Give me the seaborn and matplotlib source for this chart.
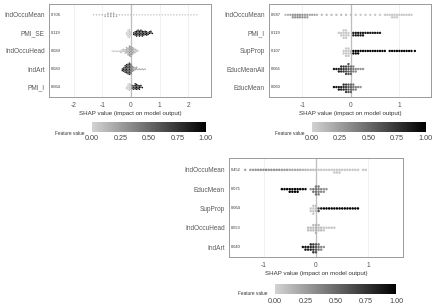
import numpy as np
import pandas as pd
import seaborn as sns
import matplotlib.pyplot as plt
from matplotlib.colors import LinearSegmentedColormap, Normalize
from matplotlib.cm import ScalarMappable
from matplotlib.transforms import blended_transform_factory
import warnings

warnings.filterwarnings('ignore')

# ---- chart 1 (top left) ----
c1_features = ['IndOccuMean', 'PMI_SE', 'IndOccuHead', 'IndArt', 'PMI_I']
c1_importance = ['0.706', '0.119', '0.089', '0.080', '0.064']
c1_shap = [
    [-1.3, -1.2, -1.1, -1.0, -0.9, -0.8, -0.7, -0.6, -0.5, -0.4, -0.3, -0.2, -0.1, 0.0, 0.1, 0.2, 0.3, 0.4,
     0.5, 0.6, 0.7, 0.8, 0.9, 1.0, 1.1, 1.2, 1.3, 1.4, 1.5, 1.6, 1.7, 1.8, 1.9, 2.0, 2.1, 2.2, 2.3],
    [-0.15, -0.1, -0.05, 0.0, 0.1, 0.15, 0.2, 0.25, 0.3, 0.35, 0.4, 0.45, 0.5, 0.55, 0.6, 0.65, 0.7, 0.75],
    [-0.65, -0.6, -0.55, -0.5, -0.45, -0.4, -0.35, -0.3, -0.25, -0.2, -0.15, -0.1, -0.05, 0.0, 0.05, 0.1, 0.15, 0.2, 0.25],
    [-0.3, -0.25, -0.2, -0.15, -0.1, -0.05, 0.0, 0.05, 0.1, 0.15, 0.2, 0.25, 0.3, 0.35, 0.4, 0.45, 0.5],
    [-0.15, -0.1, -0.05, 0.0, 0.05, 0.1, 0.15, 0.2, 0.25, 0.3, 0.35, 0.4],
]
c1_count = [
    [1, 1, 1, 1, 2, 3, 3, 3, 2, 1, 1, 1, 1, 1, 1, 1, 1, 1, 1, 1, 1, 1, 1, 1, 1, 1, 1, 1, 1, 1, 1, 1, 1, 1, 1, 1, 1],
    [2, 5, 6, 3, 2, 3, 4, 4, 4, 4, 4, 3, 3, 3, 2, 2, 2, 1],
    [1, 1, 1, 1, 1, 1, 2, 2, 2, 3, 4, 5, 7, 7, 5, 4, 3, 2, 1],
    [2, 3, 5, 6, 7, 8, 7, 4, 3, 2, 2, 1, 1, 1, 1, 1, 1],
    [2, 4, 5, 4, 3, 3, 4, 4, 3, 3, 2, 1],
]
c1_value = [
    [0.1, 0.1, 0.1, 0.15, 0.2, 0.25, 0.3, 0.25, 0.2, 0.1, 0.1, 0.1, 0.1, 0.1, 0.05, 0.05, 0.05, 0.05, 0.05,
     0.05, 0.05, 0.05, 0.05, 0.05, 0.05, 0.05, 0.05, 0.05, 0.05, 0.05, 0.05, 0.05, 0.05, 0.05, 0.05, 0.05, 0.05],
    [0.05, 0.05, 0.05, 0.1, 0.95, 0.95, 0.95, 0.95, 0.95, 0.95, 0.95, 0.95, 0.95, 0.95, 0.95, 0.95, 0.95, 0.95],
    [0.05, 0.05, 0.05, 0.05, 0.05, 0.05, 0.1, 0.1, 0.1, 0.15, 0.2, 0.25, 0.3, 0.3, 0.25, 0.2, 0.15, 0.1, 0.1],
    [0.9, 0.9, 0.9, 0.85, 0.85, 0.8, 0.6, 0.4, 0.3, 0.3, 0.25, 0.2, 0.2, 0.2, 0.2, 0.2, 0.2],
    [0.05, 0.05, 0.05, 0.1, 0.6, 0.85, 0.95, 0.95, 0.95, 0.95, 0.95, 0.95],
]

# ---- chart 2 (top right) ----
c2_features = ['IndOccuMean', 'PMI_I', 'SupProp', 'EducMeanAll', 'EducMean']
c2_importance = ['0.687', '0.119', '0.107', '0.065', '0.060']
c2_shap = [
    [-1.35, -1.3, -1.25, -1.2, -1.15, -1.1, -1.05, -1.0, -0.95, -0.9, -0.85, -0.8, -0.75, -0.7, -0.6, -0.5,
     -0.4, -0.3, -0.2, -0.1, 0.0, 0.1, 0.2, 0.3, 0.4, 0.5, 0.6, 0.7, 0.75, 0.8, 0.85, 0.9, 0.95, 1.0, 1.05,
     1.1, 1.15, 1.2, 1.25],
    [-0.25, -0.2, -0.15, -0.1, -0.05, 0.05, 0.1, 0.15, 0.2, 0.25, 0.3, 0.35, 0.4, 0.45, 0.5, 0.55, 0.6],
    [-0.15, -0.1, -0.05, 0.0, 0.05, 0.1, 0.15, 0.2, 0.25, 0.3, 0.35, 0.4, 0.45, 0.5, 0.55, 0.6, 0.65, 0.7,
     0.8, 0.85, 0.9, 0.95, 1.0, 1.05, 1.1, 1.15, 1.2, 1.25, 1.32],
    [-0.35, -0.3, -0.25, -0.2, -0.15, -0.1, -0.05, 0.0, 0.05, 0.1, 0.15, 0.2, 0.25],
    [-0.35, -0.3, -0.25, -0.2, -0.15, -0.1, -0.05, 0.0, 0.05, 0.1, 0.15, 0.2],
]
c2_count = [
    [1, 1, 1, 2, 2, 2, 2, 2, 2, 2, 1, 1, 1, 1, 1, 1, 1, 1, 1, 1, 1, 1, 1, 1, 1, 1, 1, 1, 1, 1, 2, 2, 2, 1, 1,
     1, 1, 1, 1],
    [1, 2, 4, 4, 2, 2, 2, 2, 2, 2, 1, 1, 1, 1, 1, 1, 1],
    [2, 4, 4, 2, 2, 2, 2, 1, 1, 1, 1, 1, 1, 1, 1, 1, 1, 1, 1, 1, 1, 1, 1, 1, 1, 1, 1, 1, 1],
    [1, 1, 2, 3, 3, 4, 5, 4, 3, 2, 1, 1, 1],
    [1, 1, 2, 2, 3, 4, 4, 4, 3, 2, 1, 1],
]
c2_value = [
    [0.1, 0.15, 0.2, 0.3, 0.3, 0.35, 0.3, 0.3, 0.25, 0.25, 0.2, 0.2, 0.2, 0.15, 0.1, 0.1, 0.1, 0.1, 0.1,
     0.1, 0.1, 0.05, 0.05, 0.05, 0.05, 0.05, 0.05, 0.05, 0.05, 0.05, 0.05, 0.05, 0.05, 0.05, 0.05, 0.05,
     0.05, 0.05, 0.05],
    [0.05, 0.05, 0.05, 0.05, 0.05, 0.85, 0.9, 0.9, 0.9, 0.9, 0.9, 0.9, 0.9, 0.9, 0.9, 0.9, 0.9],
    [0.05, 0.05, 0.05, 0.1, 1.0, 1.0, 1.0, 1.0, 1.0, 1.0, 1.0, 1.0, 1.0, 1.0, 1.0, 1.0, 1.0, 1.0,
     1.0, 1.0, 1.0, 1.0, 1.0, 1.0, 1.0, 1.0, 1.0, 1.0, 1.0],
    [0.9, 0.9, 0.85, 0.8, 0.75, 0.65, 0.6, 0.5, 0.4, 0.35, 0.3, 0.3, 0.3],
    [0.95, 0.9, 0.9, 0.85, 0.8, 0.7, 0.6, 0.55, 0.45, 0.4, 0.35, 0.3],
]

# ---- chart 3 (bottom) ----
c3_features = ['IndOccuMean', 'EducMean', 'SupProp', 'IndOccuHead', 'IndArt']
c3_importance = ['0.452', '0.075', '0.064', '0.053', '0.040']
c3_shap = [
    [-1.35, -1.25, -1.2, -1.15, -1.1, -1.05, -1.0, -0.95, -0.9, -0.85, -0.8, -0.75, -0.7, -0.65, -0.6, -0.55,
     -0.5, -0.45, -0.4, -0.35, -0.3, -0.25, -0.2, -0.15, -0.1, -0.05, 0.0, 0.05, 0.1, 0.15, 0.2, 0.25, 0.3,
     0.35, 0.4, 0.45, 0.5, 0.55, 0.6, 0.65, 0.7, 0.75, 0.8, 0.9, 0.95],
    [-0.65, -0.6, -0.55, -0.5, -0.45, -0.4, -0.35, -0.3, -0.25, -0.2, -0.1, -0.05, 0.0, 0.05, 0.1, 0.15, 0.2],
    [-0.1, -0.05, 0.0, 0.05, 0.1, 0.15, 0.2, 0.25, 0.3, 0.35, 0.4, 0.45, 0.5, 0.55, 0.6, 0.65, 0.7, 0.75, 0.8],
    [-0.15, -0.1, -0.05, 0.0, 0.05, 0.1, 0.15, 0.2, 0.25, 0.3, 0.35],
    [-0.25, -0.2, -0.15, -0.1, -0.05, 0.0, 0.05, 0.1, 0.15],
]
c3_count = [
    [1, 1, 1, 1, 1, 1, 1, 1, 1, 1, 1, 1, 1, 1, 1, 1, 1, 1, 1, 1, 1, 1, 1, 1, 1, 1, 1, 1, 1, 1, 1, 1, 1,
     2, 2, 2, 1, 1, 1, 1, 1, 1, 1, 1, 1],
    [1, 1, 1, 2, 2, 2, 2, 1, 1, 1, 1, 2, 4, 4, 2, 2, 1],
    [2, 4, 3, 2, 1, 1, 1, 1, 1, 1, 1, 1, 1, 1, 1, 1, 1, 1, 1],
    [2, 2, 3, 4, 3, 2, 2, 1, 1, 1, 1],
    [1, 2, 2, 3, 4, 4, 3, 2, 1],
]
c3_value = [
    [0.2, 0.25, 0.25, 0.3, 0.3, 0.3, 0.3, 0.35, 0.3, 0.3, 0.3, 0.3, 0.3, 0.25, 0.25, 0.25, 0.2, 0.2, 0.2,
     0.2, 0.2, 0.15, 0.15, 0.1, 0.1, 0.1, 0.1, 0.05, 0.05, 0.05, 0.05, 0.05, 0.05, 0.05, 0.05, 0.05, 0.05,
     0.05, 0.05, 0.05, 0.05, 0.05, 0.05, 0.05, 0.05],
    [1.0, 1.0, 1.0, 1.0, 1.0, 1.0, 1.0, 1.0, 0.95, 0.9, 0.3, 0.45, 0.45, 0.4, 0.35, 0.3, 0.3],
    [0.05, 0.05, 0.1, 0.6, 0.9, 1.0, 1.0, 1.0, 1.0, 1.0, 1.0, 1.0, 1.0, 1.0, 1.0, 1.0, 1.0, 1.0, 1.0],
    [0.1, 0.1, 0.1, 0.15, 0.1, 0.1, 0.05, 0.05, 0.05, 0.05, 0.05],
    [0.9, 0.9, 0.85, 0.8, 0.75, 0.6, 0.45, 0.35, 0.3],
]

cbar_ticks = [0.0, 0.25, 0.5, 0.75, 1.0]
cbar_labels = ['0.00', '0.25', '0.50', '0.75', '1.00']

sns.set_style('white')
plt.rcParams['font.family'] = ['Liberation Sans Narrow', 'Liberation Sans', 'DejaVu Sans']

cmap = LinearSegmentedColormap.from_list('shapgray', ['#d2d2d2', '#000000'])


def make_df(features, shap, count, value):
    rows = []
    for f, s, c, v in zip(features, shap, count, value):
        rows.append(pd.DataFrame({'shap': np.repeat(s, c),
                                  'feature': f,
                                  'fv': np.repeat(v, c)}))
    return pd.concat(rows, ignore_index=True)


def shap_panel(ax, features, importance, shap, count, value, xlim, xticks, ylim, size):
    df = make_df(features, shap, count, value)
    ax.grid(True, color='#ececec', lw=0.5)
    ax.set_axisbelow(True)
    sns.swarmplot(data=df, x='shap', y='feature', hue='fv', order=features, palette=cmap,
                  hue_norm=(0, 1), size=size, linewidth=0, legend=False, orient='h', ax=ax)
    ax.axvline(0, color='#555555', lw=0.8, zorder=0.5)
    ax.set_xlim(*xlim)
    ax.set_ylim(*ylim)
    ax.set_xticks(xticks)
    ax.set_xticklabels([str(t) for t in xticks])
    ax.set_ylabel('')
    ax.set_xlabel('SHAP value (impact on model output)', fontsize=4.4, color='#333333', labelpad=1.5)
    ax.tick_params(axis='x', labelsize=4.8, colors='#555555', length=2, width=0.5, pad=1.5)
    ax.tick_params(axis='y', labelsize=4.7, colors='#555555', length=2, width=0.5, pad=1)
    ax.tick_params(axis='y', labelcolor='#5a5a5a')
    for sp in ax.spines.values():
        sp.set_color('#9a9a9a')
        sp.set_linewidth(0.7)
    tr = blended_transform_factory(ax.transAxes, ax.transData)
    for i, txt in enumerate(importance):
        ax.text(0.012, i, txt, transform=tr, fontsize=2.9, color='#333333', va='center', ha='left')


def shap_cbar(fig, rect, label_x, label_y):
    cax = fig.add_axes(rect)
    cb = fig.colorbar(ScalarMappable(norm=Normalize(0, 1), cmap=cmap), cax=cax, orientation='horizontal')
    cb.outline.set_visible(False)
    cb.set_ticks(cbar_ticks)
    cb.set_ticklabels(cbar_labels)
    cax.tick_params(direction='in', colors='white', length=2, width=0.5, labelsize=5.2,
                    labelcolor='#444444', pad=2.5)
    fig.text(label_x, label_y, 'Feature value', fontsize=3.4, color='#333333', ha='left', va='center')


fig = plt.figure(figsize=(4.41, 3.06), dpi=100)

ax1 = fig.add_axes([0.111, 0.683, 0.367, 0.304])
shap_panel(ax1, c1_features, c1_importance, c1_shap, c1_count, c1_value,
           (-2.86, 2.79), [-2, -1, 0, 1, 2], (4.55, -0.6), 1.1)
shap_cbar(fig, [0.209, 0.569, 0.258, 0.033], 0.125, 0.565)

ax2 = fig.add_axes([0.610, 0.683, 0.367, 0.304])
shap_panel(ax2, c2_features, c2_importance, c2_shap, c2_count, c2_value,
           (-1.69, 1.65), [-1, 0, 1], (4.55, -0.6), 1.7)
shap_cbar(fig, [0.707, 0.569, 0.258, 0.033], 0.624, 0.565)

ax3 = fig.add_axes([0.519, 0.160, 0.395, 0.324])
shap_panel(ax3, c3_features, c3_importance, c3_shap, c3_count, c3_value,
           (-1.66, 1.66), [-1, 0, 1], (4.52, -0.62), 1.8)
shap_cbar(fig, [0.624, 0.039, 0.274, 0.033], 0.540, 0.042)

fig.savefig('out.png', dpi=100)
